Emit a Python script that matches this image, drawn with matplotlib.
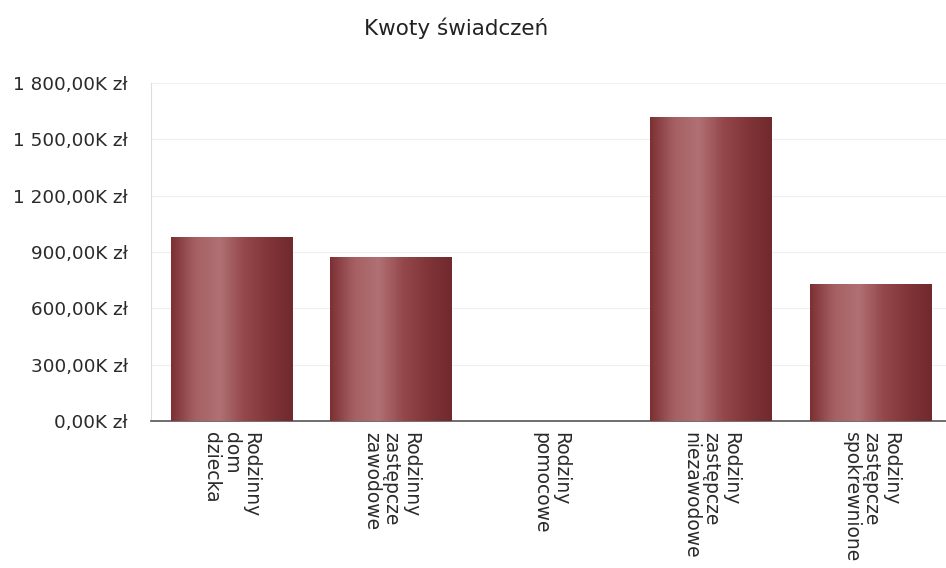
import numpy as np
import matplotlib.pyplot as plt
from matplotlib.colors import LinearSegmentedColormap

categories = ["Rodzinny\ndom\ndziecka",
              "Rodzinny\nzastępcze\nzawodowe",
              "Rodziny\npomocowe",
              "Rodziny\nzastępcze\nniezawodowe",
              "Rodziny\nzastępcze\nspokrewnione"]
values = [980, 873, 0, 1619, 729]  # thousands of zł
yticks = [0, 300, 600, 900, 1200, 1500, 1800]

plt.rcParams['font.family'] = ['DejaVu Sans']

fig = plt.figure(figsize=(9.46, 5.68), dpi=100)
ax = fig.add_axes([0.16, 0.259, 0.845, 0.595])

x = np.arange(len(categories))
bars = ax.bar(x, values, width=0.76, color="#8a3a3c", zorder=2)

# cylinder-like shading across each bar
shade = LinearSegmentedColormap.from_list(
    "cyl", ["#7c3033", "#a66063", "#b07174", "#94484b", "#813538", "#70292d"])
grad = np.linspace(0, 1, 256).reshape(1, -1)
for b in bars:
    if b.get_height() <= 0:
        continue
    im = ax.imshow(grad, cmap=shade, aspect="auto", zorder=3,
                   extent=[b.get_x(), b.get_x() + b.get_width(), 0, b.get_height()])
    im.set_clip_path(b)

ax.set_xlim(-0.5, len(categories) - 0.5)
ax.set_ylim(0, 1800)
ax.set_yticks(yticks)
ax.set_yticklabels([f"{v:,.2f}K zł".replace(",", " ").replace(".", ",") for v in yticks],
                   fontsize=13.2, color="#2a2a2a")
ax.set_xticks(x)
ax.set_xticklabels(categories, rotation=270, fontsize=13.5, ha="center", va="top",
                   ma="left", color="#2a2a2a", linespacing=1.05)
ax.tick_params(axis="y", length=0, pad=17)
ax.tick_params(axis="x", length=0, pad=8)

ax.grid(axis="y", color="#efefef", linewidth=0.8, zorder=0)
for s in ["top", "right"]:
    ax.spines[s].set_visible(False)
ax.spines["left"].set_color("#dddddd")
ax.spines["bottom"].set_color("#555555")
ax.spines["bottom"].set_linewidth(1.2)

fig.text(0.482, 0.95, "Kwoty świadczeń", ha="center", va="center",
         fontsize=15.5, color="#222222")

fig.savefig("out.png", dpi=100)
